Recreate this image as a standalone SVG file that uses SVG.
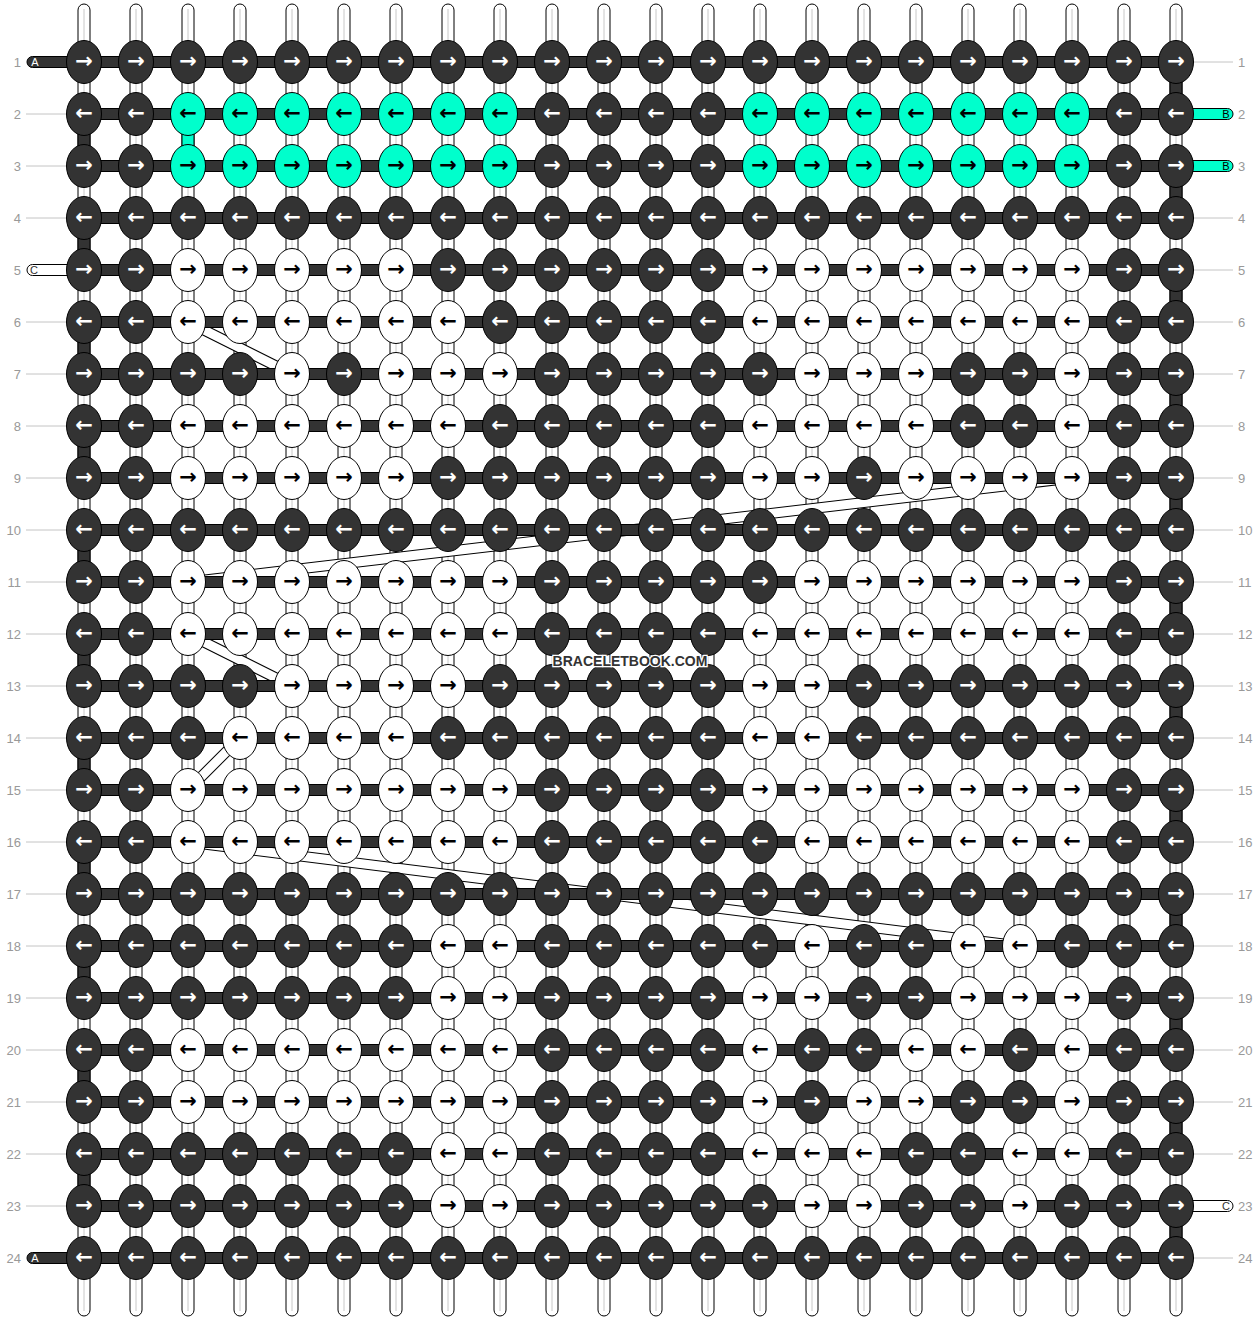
<svg xmlns="http://www.w3.org/2000/svg" width="1260" height="1320" viewBox="0 0 1260 1320">
<style>
.lbl{font-family:"Liberation Sans",Arial,sans-serif;font-size:13px;fill:#999}
.lr{text-anchor:end}
.gl{stroke:#c4c4c4;stroke-width:1}
.st rect{fill:#fff;stroke:#000;stroke-width:1}
.st line{stroke:#c8c8c8;stroke-width:1}
.bar{fill:#333;stroke:#000;stroke-width:1}
.edge{fill:#333;stroke:#000;stroke-width:1}
.bo{stroke:#000;stroke-width:11}
.bi{stroke:#fff;stroke-width:9}
.sl{font-family:"Liberation Sans",Arial,sans-serif;font-size:11px;text-anchor:middle}
#knots ellipse{stroke:#000;stroke-width:1}
.d ellipse{fill:#333}.w ellipse{fill:#fff}.c ellipse{fill:#00ffcc}
#knots text{font-family:"DejaVu Sans",sans-serif;font-size:21px;font-weight:bold;text-anchor:middle}
.d text{fill:#fff}.w text,.c text{fill:#000}
.wm{font-family:"Liberation Sans",Arial,sans-serif;font-weight:bold;font-size:14px;fill:#333;stroke:#fff;stroke-width:2.5;paint-order:stroke;text-anchor:middle}
</style>
<g id="labels">
<g class="gl">
<line x1="26" y1="114" x2="66" y2="114"/><line x1="26" y1="166" x2="66" y2="166"/><line x1="26" y1="218" x2="66" y2="218"/><line x1="26" y1="322" x2="66" y2="322"/><line x1="26" y1="374" x2="66" y2="374"/><line x1="26" y1="426" x2="66" y2="426"/><line x1="26" y1="478" x2="66" y2="478"/><line x1="26" y1="530" x2="66" y2="530"/><line x1="26" y1="582" x2="66" y2="582"/><line x1="26" y1="634" x2="66" y2="634"/><line x1="26" y1="686" x2="66" y2="686"/><line x1="26" y1="738" x2="66" y2="738"/><line x1="26" y1="790" x2="66" y2="790"/><line x1="26" y1="842" x2="66" y2="842"/><line x1="26" y1="894" x2="66" y2="894"/><line x1="26" y1="946" x2="66" y2="946"/><line x1="26" y1="998" x2="66" y2="998"/><line x1="26" y1="1050" x2="66" y2="1050"/><line x1="26" y1="1102" x2="66" y2="1102"/><line x1="26" y1="1154" x2="66" y2="1154"/><line x1="26" y1="1206" x2="66" y2="1206"/>
<line x1="1194" y1="62" x2="1233" y2="62"/><line x1="1194" y1="218" x2="1233" y2="218"/><line x1="1194" y1="270" x2="1233" y2="270"/><line x1="1194" y1="322" x2="1233" y2="322"/><line x1="1194" y1="374" x2="1233" y2="374"/><line x1="1194" y1="426" x2="1233" y2="426"/><line x1="1194" y1="478" x2="1233" y2="478"/><line x1="1194" y1="530" x2="1233" y2="530"/><line x1="1194" y1="582" x2="1233" y2="582"/><line x1="1194" y1="634" x2="1233" y2="634"/><line x1="1194" y1="686" x2="1233" y2="686"/><line x1="1194" y1="738" x2="1233" y2="738"/><line x1="1194" y1="790" x2="1233" y2="790"/><line x1="1194" y1="842" x2="1233" y2="842"/><line x1="1194" y1="894" x2="1233" y2="894"/><line x1="1194" y1="946" x2="1233" y2="946"/><line x1="1194" y1="998" x2="1233" y2="998"/><line x1="1194" y1="1050" x2="1233" y2="1050"/><line x1="1194" y1="1102" x2="1233" y2="1102"/><line x1="1194" y1="1154" x2="1233" y2="1154"/><line x1="1194" y1="1258" x2="1233" y2="1258"/>
</g>
<g class="lbl lr">
<text x="21" y="67">1</text><text x="21" y="119">2</text><text x="21" y="171">3</text><text x="21" y="223">4</text><text x="21" y="275">5</text><text x="21" y="327">6</text><text x="21" y="379">7</text><text x="21" y="431">8</text><text x="21" y="483">9</text><text x="21" y="535">10</text><text x="21" y="587">11</text><text x="21" y="639">12</text><text x="21" y="691">13</text><text x="21" y="743">14</text><text x="21" y="795">15</text><text x="21" y="847">16</text><text x="21" y="899">17</text><text x="21" y="951">18</text><text x="21" y="1003">19</text><text x="21" y="1055">20</text><text x="21" y="1107">21</text><text x="21" y="1159">22</text><text x="21" y="1211">23</text><text x="21" y="1263">24</text>
</g>
<g class="lbl">
<text x="1238" y="67">1</text><text x="1238" y="119">2</text><text x="1238" y="171">3</text><text x="1238" y="223">4</text><text x="1238" y="275">5</text><text x="1238" y="327">6</text><text x="1238" y="379">7</text><text x="1238" y="431">8</text><text x="1238" y="483">9</text><text x="1238" y="535">10</text><text x="1238" y="587">11</text><text x="1238" y="639">12</text><text x="1238" y="691">13</text><text x="1238" y="743">14</text><text x="1238" y="795">15</text><text x="1238" y="847">16</text><text x="1238" y="899">17</text><text x="1238" y="951">18</text><text x="1238" y="1003">19</text><text x="1238" y="1055">20</text><text x="1238" y="1107">21</text><text x="1238" y="1159">22</text><text x="1238" y="1211">23</text><text x="1238" y="1263">24</text>
</g>
</g>
<g id="connectors">
<g class="st">
<rect x="78" y="4" width="12" height="1312" rx="6"/><rect x="130" y="4" width="12" height="1312" rx="6"/><rect x="182" y="4" width="12" height="1312" rx="6"/><rect x="234" y="4" width="12" height="1312" rx="6"/><rect x="286" y="4" width="12" height="1312" rx="6"/><rect x="338" y="4" width="12" height="1312" rx="6"/><rect x="390" y="4" width="12" height="1312" rx="6"/><rect x="442" y="4" width="12" height="1312" rx="6"/><rect x="494" y="4" width="12" height="1312" rx="6"/><rect x="546" y="4" width="12" height="1312" rx="6"/><rect x="598" y="4" width="12" height="1312" rx="6"/><rect x="650" y="4" width="12" height="1312" rx="6"/><rect x="702" y="4" width="12" height="1312" rx="6"/><rect x="754" y="4" width="12" height="1312" rx="6"/><rect x="806" y="4" width="12" height="1312" rx="6"/><rect x="858" y="4" width="12" height="1312" rx="6"/><rect x="910" y="4" width="12" height="1312" rx="6"/><rect x="962" y="4" width="12" height="1312" rx="6"/><rect x="1014" y="4" width="12" height="1312" rx="6"/><rect x="1066" y="4" width="12" height="1312" rx="6"/><rect x="1118" y="4" width="12" height="1312" rx="6"/><rect x="1170" y="4" width="12" height="1312" rx="6"/>
<line x1="84" y1="9" x2="84" y2="1311"/><line x1="136" y1="9" x2="136" y2="1311"/><line x1="188" y1="9" x2="188" y2="1311"/><line x1="240" y1="9" x2="240" y2="1311"/><line x1="292" y1="9" x2="292" y2="1311"/><line x1="344" y1="9" x2="344" y2="1311"/><line x1="396" y1="9" x2="396" y2="1311"/><line x1="448" y1="9" x2="448" y2="1311"/><line x1="500" y1="9" x2="500" y2="1311"/><line x1="552" y1="9" x2="552" y2="1311"/><line x1="604" y1="9" x2="604" y2="1311"/><line x1="656" y1="9" x2="656" y2="1311"/><line x1="708" y1="9" x2="708" y2="1311"/><line x1="760" y1="9" x2="760" y2="1311"/><line x1="812" y1="9" x2="812" y2="1311"/><line x1="864" y1="9" x2="864" y2="1311"/><line x1="916" y1="9" x2="916" y2="1311"/><line x1="968" y1="9" x2="968" y2="1311"/><line x1="1020" y1="9" x2="1020" y2="1311"/><line x1="1072" y1="9" x2="1072" y2="1311"/><line x1="1124" y1="9" x2="1124" y2="1311"/><line x1="1176" y1="9" x2="1176" y2="1311"/>
</g>
<g class="edge">
<rect x="78" y="124" width="12" height="32"/><rect x="78" y="228" width="12" height="32"/><rect x="78" y="332" width="12" height="32"/><rect x="78" y="436" width="12" height="32"/><rect x="78" y="540" width="12" height="32"/><rect x="78" y="644" width="12" height="32"/><rect x="78" y="748" width="12" height="32"/><rect x="78" y="852" width="12" height="32"/><rect x="78" y="956" width="12" height="32"/><rect x="78" y="1060" width="12" height="32"/><rect x="78" y="1164" width="12" height="32"/>
<rect x="1170" y="72" width="12" height="32"/><rect x="1170" y="176" width="12" height="32"/><rect x="1170" y="280" width="12" height="32"/><rect x="1170" y="384" width="12" height="32"/><rect x="1170" y="488" width="12" height="32"/><rect x="1170" y="592" width="12" height="32"/><rect x="1170" y="696" width="12" height="32"/><rect x="1170" y="800" width="12" height="32"/><rect x="1170" y="904" width="12" height="32"/><rect x="1170" y="1008" width="12" height="32"/><rect x="1170" y="1112" width="12" height="32"/><rect x="1170" y="1216" width="12" height="32"/>
<rect x="182" y="124" width="12" height="32" style="fill:#00ffcc"/>
</g>
<g id="carries">
<g class="bo">
<line x1="188" y1="322" x2="292" y2="374"/><line x1="188" y1="582" x2="1072" y2="478"/><line x1="188" y1="634" x2="292" y2="686"/><line x1="240" y1="738" x2="188" y2="790"/><line x1="188" y1="842" x2="1020" y2="946"/>
</g>
<g class="bi">
<line x1="188" y1="322" x2="292" y2="374"/><line x1="188" y1="582" x2="1072" y2="478"/><line x1="188" y1="634" x2="292" y2="686"/><line x1="240" y1="738" x2="188" y2="790"/><line x1="188" y1="842" x2="1020" y2="946"/>
</g>
</g>
<g class="bar">
<rect x="84" y="56.5" width="1092" height="11"/><rect x="84" y="108.5" width="1092" height="11"/><rect x="84" y="160.5" width="1092" height="11"/><rect x="84" y="212.5" width="1092" height="11"/><rect x="84" y="264.5" width="1092" height="11"/><rect x="84" y="316.5" width="1092" height="11"/><rect x="84" y="368.5" width="1092" height="11"/><rect x="84" y="420.5" width="1092" height="11"/><rect x="84" y="472.5" width="1092" height="11"/><rect x="84" y="524.5" width="1092" height="11"/><rect x="84" y="576.5" width="1092" height="11"/><rect x="84" y="628.5" width="1092" height="11"/><rect x="84" y="680.5" width="1092" height="11"/><rect x="84" y="732.5" width="1092" height="11"/><rect x="84" y="784.5" width="1092" height="11"/><rect x="84" y="836.5" width="1092" height="11"/><rect x="84" y="888.5" width="1092" height="11"/><rect x="84" y="940.5" width="1092" height="11"/><rect x="84" y="992.5" width="1092" height="11"/><rect x="84" y="1044.5" width="1092" height="11"/><rect x="84" y="1096.5" width="1092" height="11"/><rect x="84" y="1148.5" width="1092" height="11"/><rect x="84" y="1200.5" width="1092" height="11"/><rect x="84" y="1252.5" width="1092" height="11"/>
</g>
<g id="ends">
<rect x="27" y="56.5" width="70" height="11" rx="5.5" class="bar"/><rect x="27" y="1252.5" width="70" height="11" rx="5.5" class="bar"/>
<rect x="27" y="264.5" width="70" height="11" rx="5.5" style="fill:#fff;stroke:#000"/>
<rect x="1163" y="108.5" width="70" height="11" rx="5.5" style="fill:#00ffcc;stroke:#000"/><rect x="1163" y="160.5" width="70" height="11" rx="5.5" style="fill:#00ffcc;stroke:#000"/>
<rect x="1163" y="1200.5" width="70" height="11" rx="5.5" style="fill:#fff;stroke:#000"/>
<text x="35" y="66" class="sl" style="fill:#fff">A</text><text x="35" y="1262" class="sl" style="fill:#fff">A</text>
<text x="34" y="274" class="sl" style="fill:#333">C</text>
<text x="1226" y="118" class="sl" style="fill:#000">B</text><text x="1226" y="170" class="sl" style="fill:#000">B</text>
<text x="1226" y="1210" class="sl" style="fill:#333">C</text>
</g>
</g>
<g id="knots">
<g id="n1-1" class="d" transform="translate(84,62)"><ellipse rx="17.5" ry="21.5"/><text y="6">→</text></g>
<g id="n1-2" class="d" transform="translate(136,62)"><ellipse rx="17.5" ry="21.5"/><text y="6">→</text></g>
<g id="n1-3" class="d" transform="translate(188,62)"><ellipse rx="17.5" ry="21.5"/><text y="6">→</text></g>
<g id="n1-4" class="d" transform="translate(240,62)"><ellipse rx="17.5" ry="21.5"/><text y="6">→</text></g>
<g id="n1-5" class="d" transform="translate(292,62)"><ellipse rx="17.5" ry="21.5"/><text y="6">→</text></g>
<g id="n1-6" class="d" transform="translate(344,62)"><ellipse rx="17.5" ry="21.5"/><text y="6">→</text></g>
<g id="n1-7" class="d" transform="translate(396,62)"><ellipse rx="17.5" ry="21.5"/><text y="6">→</text></g>
<g id="n1-8" class="d" transform="translate(448,62)"><ellipse rx="17.5" ry="21.5"/><text y="6">→</text></g>
<g id="n1-9" class="d" transform="translate(500,62)"><ellipse rx="17.5" ry="21.5"/><text y="6">→</text></g>
<g id="n1-10" class="d" transform="translate(552,62)"><ellipse rx="17.5" ry="21.5"/><text y="6">→</text></g>
<g id="n1-11" class="d" transform="translate(604,62)"><ellipse rx="17.5" ry="21.5"/><text y="6">→</text></g>
<g id="n1-12" class="d" transform="translate(656,62)"><ellipse rx="17.5" ry="21.5"/><text y="6">→</text></g>
<g id="n1-13" class="d" transform="translate(708,62)"><ellipse rx="17.5" ry="21.5"/><text y="6">→</text></g>
<g id="n1-14" class="d" transform="translate(760,62)"><ellipse rx="17.5" ry="21.5"/><text y="6">→</text></g>
<g id="n1-15" class="d" transform="translate(812,62)"><ellipse rx="17.5" ry="21.5"/><text y="6">→</text></g>
<g id="n1-16" class="d" transform="translate(864,62)"><ellipse rx="17.5" ry="21.5"/><text y="6">→</text></g>
<g id="n1-17" class="d" transform="translate(916,62)"><ellipse rx="17.5" ry="21.5"/><text y="6">→</text></g>
<g id="n1-18" class="d" transform="translate(968,62)"><ellipse rx="17.5" ry="21.5"/><text y="6">→</text></g>
<g id="n1-19" class="d" transform="translate(1020,62)"><ellipse rx="17.5" ry="21.5"/><text y="6">→</text></g>
<g id="n1-20" class="d" transform="translate(1072,62)"><ellipse rx="17.5" ry="21.5"/><text y="6">→</text></g>
<g id="n1-21" class="d" transform="translate(1124,62)"><ellipse rx="17.5" ry="21.5"/><text y="6">→</text></g>
<g id="n1-22" class="d" transform="translate(1176,62)"><ellipse rx="17.5" ry="21.5"/><text y="6">→</text></g>
<g id="n2-1" class="d" transform="translate(84,114)"><ellipse rx="17.5" ry="21.5"/><text y="6">←</text></g>
<g id="n2-2" class="d" transform="translate(136,114)"><ellipse rx="17.5" ry="21.5"/><text y="6">←</text></g>
<g id="n2-3" class="c" transform="translate(188,114)"><ellipse rx="17.5" ry="21.5"/><text y="6">←</text></g>
<g id="n2-4" class="c" transform="translate(240,114)"><ellipse rx="17.5" ry="21.5"/><text y="6">←</text></g>
<g id="n2-5" class="c" transform="translate(292,114)"><ellipse rx="17.5" ry="21.5"/><text y="6">←</text></g>
<g id="n2-6" class="c" transform="translate(344,114)"><ellipse rx="17.5" ry="21.5"/><text y="6">←</text></g>
<g id="n2-7" class="c" transform="translate(396,114)"><ellipse rx="17.5" ry="21.5"/><text y="6">←</text></g>
<g id="n2-8" class="c" transform="translate(448,114)"><ellipse rx="17.5" ry="21.5"/><text y="6">←</text></g>
<g id="n2-9" class="c" transform="translate(500,114)"><ellipse rx="17.5" ry="21.5"/><text y="6">←</text></g>
<g id="n2-10" class="d" transform="translate(552,114)"><ellipse rx="17.5" ry="21.5"/><text y="6">←</text></g>
<g id="n2-11" class="d" transform="translate(604,114)"><ellipse rx="17.5" ry="21.5"/><text y="6">←</text></g>
<g id="n2-12" class="d" transform="translate(656,114)"><ellipse rx="17.5" ry="21.5"/><text y="6">←</text></g>
<g id="n2-13" class="d" transform="translate(708,114)"><ellipse rx="17.5" ry="21.5"/><text y="6">←</text></g>
<g id="n2-14" class="c" transform="translate(760,114)"><ellipse rx="17.5" ry="21.5"/><text y="6">←</text></g>
<g id="n2-15" class="c" transform="translate(812,114)"><ellipse rx="17.5" ry="21.5"/><text y="6">←</text></g>
<g id="n2-16" class="c" transform="translate(864,114)"><ellipse rx="17.5" ry="21.5"/><text y="6">←</text></g>
<g id="n2-17" class="c" transform="translate(916,114)"><ellipse rx="17.5" ry="21.5"/><text y="6">←</text></g>
<g id="n2-18" class="c" transform="translate(968,114)"><ellipse rx="17.5" ry="21.5"/><text y="6">←</text></g>
<g id="n2-19" class="c" transform="translate(1020,114)"><ellipse rx="17.5" ry="21.5"/><text y="6">←</text></g>
<g id="n2-20" class="c" transform="translate(1072,114)"><ellipse rx="17.5" ry="21.5"/><text y="6">←</text></g>
<g id="n2-21" class="d" transform="translate(1124,114)"><ellipse rx="17.5" ry="21.5"/><text y="6">←</text></g>
<g id="n2-22" class="d" transform="translate(1176,114)"><ellipse rx="17.5" ry="21.5"/><text y="6">←</text></g>
<g id="n3-1" class="d" transform="translate(84,166)"><ellipse rx="17.5" ry="21.5"/><text y="6">→</text></g>
<g id="n3-2" class="d" transform="translate(136,166)"><ellipse rx="17.5" ry="21.5"/><text y="6">→</text></g>
<g id="n3-3" class="c" transform="translate(188,166)"><ellipse rx="17.5" ry="21.5"/><text y="6">→</text></g>
<g id="n3-4" class="c" transform="translate(240,166)"><ellipse rx="17.5" ry="21.5"/><text y="6">→</text></g>
<g id="n3-5" class="c" transform="translate(292,166)"><ellipse rx="17.5" ry="21.5"/><text y="6">→</text></g>
<g id="n3-6" class="c" transform="translate(344,166)"><ellipse rx="17.5" ry="21.5"/><text y="6">→</text></g>
<g id="n3-7" class="c" transform="translate(396,166)"><ellipse rx="17.5" ry="21.5"/><text y="6">→</text></g>
<g id="n3-8" class="c" transform="translate(448,166)"><ellipse rx="17.5" ry="21.5"/><text y="6">→</text></g>
<g id="n3-9" class="c" transform="translate(500,166)"><ellipse rx="17.5" ry="21.5"/><text y="6">→</text></g>
<g id="n3-10" class="d" transform="translate(552,166)"><ellipse rx="17.5" ry="21.5"/><text y="6">→</text></g>
<g id="n3-11" class="d" transform="translate(604,166)"><ellipse rx="17.5" ry="21.5"/><text y="6">→</text></g>
<g id="n3-12" class="d" transform="translate(656,166)"><ellipse rx="17.5" ry="21.5"/><text y="6">→</text></g>
<g id="n3-13" class="d" transform="translate(708,166)"><ellipse rx="17.5" ry="21.5"/><text y="6">→</text></g>
<g id="n3-14" class="c" transform="translate(760,166)"><ellipse rx="17.5" ry="21.5"/><text y="6">→</text></g>
<g id="n3-15" class="c" transform="translate(812,166)"><ellipse rx="17.5" ry="21.5"/><text y="6">→</text></g>
<g id="n3-16" class="c" transform="translate(864,166)"><ellipse rx="17.5" ry="21.5"/><text y="6">→</text></g>
<g id="n3-17" class="c" transform="translate(916,166)"><ellipse rx="17.5" ry="21.5"/><text y="6">→</text></g>
<g id="n3-18" class="c" transform="translate(968,166)"><ellipse rx="17.5" ry="21.5"/><text y="6">→</text></g>
<g id="n3-19" class="c" transform="translate(1020,166)"><ellipse rx="17.5" ry="21.5"/><text y="6">→</text></g>
<g id="n3-20" class="c" transform="translate(1072,166)"><ellipse rx="17.5" ry="21.5"/><text y="6">→</text></g>
<g id="n3-21" class="d" transform="translate(1124,166)"><ellipse rx="17.5" ry="21.5"/><text y="6">→</text></g>
<g id="n3-22" class="d" transform="translate(1176,166)"><ellipse rx="17.5" ry="21.5"/><text y="6">→</text></g>
<g id="n4-1" class="d" transform="translate(84,218)"><ellipse rx="17.5" ry="21.5"/><text y="6">←</text></g>
<g id="n4-2" class="d" transform="translate(136,218)"><ellipse rx="17.5" ry="21.5"/><text y="6">←</text></g>
<g id="n4-3" class="d" transform="translate(188,218)"><ellipse rx="17.5" ry="21.5"/><text y="6">←</text></g>
<g id="n4-4" class="d" transform="translate(240,218)"><ellipse rx="17.5" ry="21.5"/><text y="6">←</text></g>
<g id="n4-5" class="d" transform="translate(292,218)"><ellipse rx="17.5" ry="21.5"/><text y="6">←</text></g>
<g id="n4-6" class="d" transform="translate(344,218)"><ellipse rx="17.5" ry="21.5"/><text y="6">←</text></g>
<g id="n4-7" class="d" transform="translate(396,218)"><ellipse rx="17.5" ry="21.5"/><text y="6">←</text></g>
<g id="n4-8" class="d" transform="translate(448,218)"><ellipse rx="17.5" ry="21.5"/><text y="6">←</text></g>
<g id="n4-9" class="d" transform="translate(500,218)"><ellipse rx="17.5" ry="21.5"/><text y="6">←</text></g>
<g id="n4-10" class="d" transform="translate(552,218)"><ellipse rx="17.5" ry="21.5"/><text y="6">←</text></g>
<g id="n4-11" class="d" transform="translate(604,218)"><ellipse rx="17.5" ry="21.5"/><text y="6">←</text></g>
<g id="n4-12" class="d" transform="translate(656,218)"><ellipse rx="17.5" ry="21.5"/><text y="6">←</text></g>
<g id="n4-13" class="d" transform="translate(708,218)"><ellipse rx="17.5" ry="21.5"/><text y="6">←</text></g>
<g id="n4-14" class="d" transform="translate(760,218)"><ellipse rx="17.5" ry="21.5"/><text y="6">←</text></g>
<g id="n4-15" class="d" transform="translate(812,218)"><ellipse rx="17.5" ry="21.5"/><text y="6">←</text></g>
<g id="n4-16" class="d" transform="translate(864,218)"><ellipse rx="17.5" ry="21.5"/><text y="6">←</text></g>
<g id="n4-17" class="d" transform="translate(916,218)"><ellipse rx="17.5" ry="21.5"/><text y="6">←</text></g>
<g id="n4-18" class="d" transform="translate(968,218)"><ellipse rx="17.5" ry="21.5"/><text y="6">←</text></g>
<g id="n4-19" class="d" transform="translate(1020,218)"><ellipse rx="17.5" ry="21.5"/><text y="6">←</text></g>
<g id="n4-20" class="d" transform="translate(1072,218)"><ellipse rx="17.5" ry="21.5"/><text y="6">←</text></g>
<g id="n4-21" class="d" transform="translate(1124,218)"><ellipse rx="17.5" ry="21.5"/><text y="6">←</text></g>
<g id="n4-22" class="d" transform="translate(1176,218)"><ellipse rx="17.5" ry="21.5"/><text y="6">←</text></g>
<g id="n5-1" class="d" transform="translate(84,270)"><ellipse rx="17.5" ry="21.5"/><text y="6">→</text></g>
<g id="n5-2" class="d" transform="translate(136,270)"><ellipse rx="17.5" ry="21.5"/><text y="6">→</text></g>
<g id="n5-3" class="w" transform="translate(188,270)"><ellipse rx="17.5" ry="21.5"/><text y="6">→</text></g>
<g id="n5-4" class="w" transform="translate(240,270)"><ellipse rx="17.5" ry="21.5"/><text y="6">→</text></g>
<g id="n5-5" class="w" transform="translate(292,270)"><ellipse rx="17.5" ry="21.5"/><text y="6">→</text></g>
<g id="n5-6" class="w" transform="translate(344,270)"><ellipse rx="17.5" ry="21.5"/><text y="6">→</text></g>
<g id="n5-7" class="w" transform="translate(396,270)"><ellipse rx="17.5" ry="21.5"/><text y="6">→</text></g>
<g id="n5-8" class="d" transform="translate(448,270)"><ellipse rx="17.5" ry="21.5"/><text y="6">→</text></g>
<g id="n5-9" class="d" transform="translate(500,270)"><ellipse rx="17.5" ry="21.5"/><text y="6">→</text></g>
<g id="n5-10" class="d" transform="translate(552,270)"><ellipse rx="17.5" ry="21.5"/><text y="6">→</text></g>
<g id="n5-11" class="d" transform="translate(604,270)"><ellipse rx="17.5" ry="21.5"/><text y="6">→</text></g>
<g id="n5-12" class="d" transform="translate(656,270)"><ellipse rx="17.5" ry="21.5"/><text y="6">→</text></g>
<g id="n5-13" class="d" transform="translate(708,270)"><ellipse rx="17.5" ry="21.5"/><text y="6">→</text></g>
<g id="n5-14" class="w" transform="translate(760,270)"><ellipse rx="17.5" ry="21.5"/><text y="6">→</text></g>
<g id="n5-15" class="w" transform="translate(812,270)"><ellipse rx="17.5" ry="21.5"/><text y="6">→</text></g>
<g id="n5-16" class="w" transform="translate(864,270)"><ellipse rx="17.5" ry="21.5"/><text y="6">→</text></g>
<g id="n5-17" class="w" transform="translate(916,270)"><ellipse rx="17.5" ry="21.5"/><text y="6">→</text></g>
<g id="n5-18" class="w" transform="translate(968,270)"><ellipse rx="17.5" ry="21.5"/><text y="6">→</text></g>
<g id="n5-19" class="w" transform="translate(1020,270)"><ellipse rx="17.5" ry="21.5"/><text y="6">→</text></g>
<g id="n5-20" class="w" transform="translate(1072,270)"><ellipse rx="17.5" ry="21.5"/><text y="6">→</text></g>
<g id="n5-21" class="d" transform="translate(1124,270)"><ellipse rx="17.5" ry="21.5"/><text y="6">→</text></g>
<g id="n5-22" class="d" transform="translate(1176,270)"><ellipse rx="17.5" ry="21.5"/><text y="6">→</text></g>
<g id="n6-1" class="d" transform="translate(84,322)"><ellipse rx="17.5" ry="21.5"/><text y="6">←</text></g>
<g id="n6-2" class="d" transform="translate(136,322)"><ellipse rx="17.5" ry="21.5"/><text y="6">←</text></g>
<g id="n6-3" class="w" transform="translate(188,322)"><ellipse rx="17.5" ry="21.5"/><text y="6">←</text></g>
<g id="n6-4" class="w" transform="translate(240,322)"><ellipse rx="17.5" ry="21.5"/><text y="6">←</text></g>
<g id="n6-5" class="w" transform="translate(292,322)"><ellipse rx="17.5" ry="21.5"/><text y="6">←</text></g>
<g id="n6-6" class="w" transform="translate(344,322)"><ellipse rx="17.5" ry="21.5"/><text y="6">←</text></g>
<g id="n6-7" class="w" transform="translate(396,322)"><ellipse rx="17.5" ry="21.5"/><text y="6">←</text></g>
<g id="n6-8" class="w" transform="translate(448,322)"><ellipse rx="17.5" ry="21.5"/><text y="6">←</text></g>
<g id="n6-9" class="d" transform="translate(500,322)"><ellipse rx="17.5" ry="21.5"/><text y="6">←</text></g>
<g id="n6-10" class="d" transform="translate(552,322)"><ellipse rx="17.5" ry="21.5"/><text y="6">←</text></g>
<g id="n6-11" class="d" transform="translate(604,322)"><ellipse rx="17.5" ry="21.5"/><text y="6">←</text></g>
<g id="n6-12" class="d" transform="translate(656,322)"><ellipse rx="17.5" ry="21.5"/><text y="6">←</text></g>
<g id="n6-13" class="d" transform="translate(708,322)"><ellipse rx="17.5" ry="21.5"/><text y="6">←</text></g>
<g id="n6-14" class="w" transform="translate(760,322)"><ellipse rx="17.5" ry="21.5"/><text y="6">←</text></g>
<g id="n6-15" class="w" transform="translate(812,322)"><ellipse rx="17.5" ry="21.5"/><text y="6">←</text></g>
<g id="n6-16" class="w" transform="translate(864,322)"><ellipse rx="17.5" ry="21.5"/><text y="6">←</text></g>
<g id="n6-17" class="w" transform="translate(916,322)"><ellipse rx="17.5" ry="21.5"/><text y="6">←</text></g>
<g id="n6-18" class="w" transform="translate(968,322)"><ellipse rx="17.5" ry="21.5"/><text y="6">←</text></g>
<g id="n6-19" class="w" transform="translate(1020,322)"><ellipse rx="17.5" ry="21.5"/><text y="6">←</text></g>
<g id="n6-20" class="w" transform="translate(1072,322)"><ellipse rx="17.5" ry="21.5"/><text y="6">←</text></g>
<g id="n6-21" class="d" transform="translate(1124,322)"><ellipse rx="17.5" ry="21.5"/><text y="6">←</text></g>
<g id="n6-22" class="d" transform="translate(1176,322)"><ellipse rx="17.5" ry="21.5"/><text y="6">←</text></g>
<g id="n7-1" class="d" transform="translate(84,374)"><ellipse rx="17.5" ry="21.5"/><text y="6">→</text></g>
<g id="n7-2" class="d" transform="translate(136,374)"><ellipse rx="17.5" ry="21.5"/><text y="6">→</text></g>
<g id="n7-3" class="d" transform="translate(188,374)"><ellipse rx="17.5" ry="21.5"/><text y="6">→</text></g>
<g id="n7-4" class="d" transform="translate(240,374)"><ellipse rx="17.5" ry="21.5"/><text y="6">→</text></g>
<g id="n7-5" class="w" transform="translate(292,374)"><ellipse rx="17.5" ry="21.5"/><text y="6">→</text></g>
<g id="n7-6" class="d" transform="translate(344,374)"><ellipse rx="17.5" ry="21.5"/><text y="6">→</text></g>
<g id="n7-7" class="w" transform="translate(396,374)"><ellipse rx="17.5" ry="21.5"/><text y="6">→</text></g>
<g id="n7-8" class="w" transform="translate(448,374)"><ellipse rx="17.5" ry="21.5"/><text y="6">→</text></g>
<g id="n7-9" class="w" transform="translate(500,374)"><ellipse rx="17.5" ry="21.5"/><text y="6">→</text></g>
<g id="n7-10" class="d" transform="translate(552,374)"><ellipse rx="17.5" ry="21.5"/><text y="6">→</text></g>
<g id="n7-11" class="d" transform="translate(604,374)"><ellipse rx="17.5" ry="21.5"/><text y="6">→</text></g>
<g id="n7-12" class="d" transform="translate(656,374)"><ellipse rx="17.5" ry="21.5"/><text y="6">→</text></g>
<g id="n7-13" class="d" transform="translate(708,374)"><ellipse rx="17.5" ry="21.5"/><text y="6">→</text></g>
<g id="n7-14" class="d" transform="translate(760,374)"><ellipse rx="17.5" ry="21.5"/><text y="6">→</text></g>
<g id="n7-15" class="w" transform="translate(812,374)"><ellipse rx="17.5" ry="21.5"/><text y="6">→</text></g>
<g id="n7-16" class="w" transform="translate(864,374)"><ellipse rx="17.5" ry="21.5"/><text y="6">→</text></g>
<g id="n7-17" class="w" transform="translate(916,374)"><ellipse rx="17.5" ry="21.5"/><text y="6">→</text></g>
<g id="n7-18" class="d" transform="translate(968,374)"><ellipse rx="17.5" ry="21.5"/><text y="6">→</text></g>
<g id="n7-19" class="d" transform="translate(1020,374)"><ellipse rx="17.5" ry="21.5"/><text y="6">→</text></g>
<g id="n7-20" class="w" transform="translate(1072,374)"><ellipse rx="17.5" ry="21.5"/><text y="6">→</text></g>
<g id="n7-21" class="d" transform="translate(1124,374)"><ellipse rx="17.5" ry="21.5"/><text y="6">→</text></g>
<g id="n7-22" class="d" transform="translate(1176,374)"><ellipse rx="17.5" ry="21.5"/><text y="6">→</text></g>
<g id="n8-1" class="d" transform="translate(84,426)"><ellipse rx="17.5" ry="21.5"/><text y="6">←</text></g>
<g id="n8-2" class="d" transform="translate(136,426)"><ellipse rx="17.5" ry="21.5"/><text y="6">←</text></g>
<g id="n8-3" class="w" transform="translate(188,426)"><ellipse rx="17.5" ry="21.5"/><text y="6">←</text></g>
<g id="n8-4" class="w" transform="translate(240,426)"><ellipse rx="17.5" ry="21.5"/><text y="6">←</text></g>
<g id="n8-5" class="w" transform="translate(292,426)"><ellipse rx="17.5" ry="21.5"/><text y="6">←</text></g>
<g id="n8-6" class="w" transform="translate(344,426)"><ellipse rx="17.5" ry="21.5"/><text y="6">←</text></g>
<g id="n8-7" class="w" transform="translate(396,426)"><ellipse rx="17.5" ry="21.5"/><text y="6">←</text></g>
<g id="n8-8" class="w" transform="translate(448,426)"><ellipse rx="17.5" ry="21.5"/><text y="6">←</text></g>
<g id="n8-9" class="d" transform="translate(500,426)"><ellipse rx="17.5" ry="21.5"/><text y="6">←</text></g>
<g id="n8-10" class="d" transform="translate(552,426)"><ellipse rx="17.5" ry="21.5"/><text y="6">←</text></g>
<g id="n8-11" class="d" transform="translate(604,426)"><ellipse rx="17.5" ry="21.5"/><text y="6">←</text></g>
<g id="n8-12" class="d" transform="translate(656,426)"><ellipse rx="17.5" ry="21.5"/><text y="6">←</text></g>
<g id="n8-13" class="d" transform="translate(708,426)"><ellipse rx="17.5" ry="21.5"/><text y="6">←</text></g>
<g id="n8-14" class="w" transform="translate(760,426)"><ellipse rx="17.5" ry="21.5"/><text y="6">←</text></g>
<g id="n8-15" class="w" transform="translate(812,426)"><ellipse rx="17.5" ry="21.5"/><text y="6">←</text></g>
<g id="n8-16" class="w" transform="translate(864,426)"><ellipse rx="17.5" ry="21.5"/><text y="6">←</text></g>
<g id="n8-17" class="w" transform="translate(916,426)"><ellipse rx="17.5" ry="21.5"/><text y="6">←</text></g>
<g id="n8-18" class="d" transform="translate(968,426)"><ellipse rx="17.5" ry="21.5"/><text y="6">←</text></g>
<g id="n8-19" class="d" transform="translate(1020,426)"><ellipse rx="17.5" ry="21.5"/><text y="6">←</text></g>
<g id="n8-20" class="w" transform="translate(1072,426)"><ellipse rx="17.5" ry="21.5"/><text y="6">←</text></g>
<g id="n8-21" class="d" transform="translate(1124,426)"><ellipse rx="17.5" ry="21.5"/><text y="6">←</text></g>
<g id="n8-22" class="d" transform="translate(1176,426)"><ellipse rx="17.5" ry="21.5"/><text y="6">←</text></g>
<g id="n9-1" class="d" transform="translate(84,478)"><ellipse rx="17.5" ry="21.5"/><text y="6">→</text></g>
<g id="n9-2" class="d" transform="translate(136,478)"><ellipse rx="17.5" ry="21.5"/><text y="6">→</text></g>
<g id="n9-3" class="w" transform="translate(188,478)"><ellipse rx="17.5" ry="21.5"/><text y="6">→</text></g>
<g id="n9-4" class="w" transform="translate(240,478)"><ellipse rx="17.5" ry="21.5"/><text y="6">→</text></g>
<g id="n9-5" class="w" transform="translate(292,478)"><ellipse rx="17.5" ry="21.5"/><text y="6">→</text></g>
<g id="n9-6" class="w" transform="translate(344,478)"><ellipse rx="17.5" ry="21.5"/><text y="6">→</text></g>
<g id="n9-7" class="w" transform="translate(396,478)"><ellipse rx="17.5" ry="21.5"/><text y="6">→</text></g>
<g id="n9-8" class="d" transform="translate(448,478)"><ellipse rx="17.5" ry="21.5"/><text y="6">→</text></g>
<g id="n9-9" class="d" transform="translate(500,478)"><ellipse rx="17.5" ry="21.5"/><text y="6">→</text></g>
<g id="n9-10" class="d" transform="translate(552,478)"><ellipse rx="17.5" ry="21.5"/><text y="6">→</text></g>
<g id="n9-11" class="d" transform="translate(604,478)"><ellipse rx="17.5" ry="21.5"/><text y="6">→</text></g>
<g id="n9-12" class="d" transform="translate(656,478)"><ellipse rx="17.5" ry="21.5"/><text y="6">→</text></g>
<g id="n9-13" class="d" transform="translate(708,478)"><ellipse rx="17.5" ry="21.5"/><text y="6">→</text></g>
<g id="n9-14" class="w" transform="translate(760,478)"><ellipse rx="17.5" ry="21.5"/><text y="6">→</text></g>
<g id="n9-15" class="w" transform="translate(812,478)"><ellipse rx="17.5" ry="21.5"/><text y="6">→</text></g>
<g id="n9-16" class="d" transform="translate(864,478)"><ellipse rx="17.5" ry="21.5"/><text y="6">→</text></g>
<g id="n9-17" class="w" transform="translate(916,478)"><ellipse rx="17.5" ry="21.5"/><text y="6">→</text></g>
<g id="n9-18" class="w" transform="translate(968,478)"><ellipse rx="17.5" ry="21.5"/><text y="6">→</text></g>
<g id="n9-19" class="w" transform="translate(1020,478)"><ellipse rx="17.5" ry="21.5"/><text y="6">→</text></g>
<g id="n9-20" class="w" transform="translate(1072,478)"><ellipse rx="17.5" ry="21.5"/><text y="6">→</text></g>
<g id="n9-21" class="d" transform="translate(1124,478)"><ellipse rx="17.5" ry="21.5"/><text y="6">→</text></g>
<g id="n9-22" class="d" transform="translate(1176,478)"><ellipse rx="17.5" ry="21.5"/><text y="6">→</text></g>
<g id="n10-1" class="d" transform="translate(84,530)"><ellipse rx="17.5" ry="21.5"/><text y="6">←</text></g>
<g id="n10-2" class="d" transform="translate(136,530)"><ellipse rx="17.5" ry="21.5"/><text y="6">←</text></g>
<g id="n10-3" class="d" transform="translate(188,530)"><ellipse rx="17.5" ry="21.5"/><text y="6">←</text></g>
<g id="n10-4" class="d" transform="translate(240,530)"><ellipse rx="17.5" ry="21.5"/><text y="6">←</text></g>
<g id="n10-5" class="d" transform="translate(292,530)"><ellipse rx="17.5" ry="21.5"/><text y="6">←</text></g>
<g id="n10-6" class="d" transform="translate(344,530)"><ellipse rx="17.5" ry="21.5"/><text y="6">←</text></g>
<g id="n10-7" class="d" transform="translate(396,530)"><ellipse rx="17.5" ry="21.5"/><text y="6">←</text></g>
<g id="n10-8" class="d" transform="translate(448,530)"><ellipse rx="17.5" ry="21.5"/><text y="6">←</text></g>
<g id="n10-9" class="d" transform="translate(500,530)"><ellipse rx="17.5" ry="21.5"/><text y="6">←</text></g>
<g id="n10-10" class="d" transform="translate(552,530)"><ellipse rx="17.5" ry="21.5"/><text y="6">←</text></g>
<g id="n10-11" class="d" transform="translate(604,530)"><ellipse rx="17.5" ry="21.5"/><text y="6">←</text></g>
<g id="n10-12" class="d" transform="translate(656,530)"><ellipse rx="17.5" ry="21.5"/><text y="6">←</text></g>
<g id="n10-13" class="d" transform="translate(708,530)"><ellipse rx="17.5" ry="21.5"/><text y="6">←</text></g>
<g id="n10-14" class="d" transform="translate(760,530)"><ellipse rx="17.5" ry="21.5"/><text y="6">←</text></g>
<g id="n10-15" class="d" transform="translate(812,530)"><ellipse rx="17.5" ry="21.5"/><text y="6">←</text></g>
<g id="n10-16" class="d" transform="translate(864,530)"><ellipse rx="17.5" ry="21.5"/><text y="6">←</text></g>
<g id="n10-17" class="d" transform="translate(916,530)"><ellipse rx="17.5" ry="21.5"/><text y="6">←</text></g>
<g id="n10-18" class="d" transform="translate(968,530)"><ellipse rx="17.5" ry="21.5"/><text y="6">←</text></g>
<g id="n10-19" class="d" transform="translate(1020,530)"><ellipse rx="17.5" ry="21.5"/><text y="6">←</text></g>
<g id="n10-20" class="d" transform="translate(1072,530)"><ellipse rx="17.5" ry="21.5"/><text y="6">←</text></g>
<g id="n10-21" class="d" transform="translate(1124,530)"><ellipse rx="17.5" ry="21.5"/><text y="6">←</text></g>
<g id="n10-22" class="d" transform="translate(1176,530)"><ellipse rx="17.5" ry="21.5"/><text y="6">←</text></g>
<g id="n11-1" class="d" transform="translate(84,582)"><ellipse rx="17.5" ry="21.5"/><text y="6">→</text></g>
<g id="n11-2" class="d" transform="translate(136,582)"><ellipse rx="17.5" ry="21.5"/><text y="6">→</text></g>
<g id="n11-3" class="w" transform="translate(188,582)"><ellipse rx="17.5" ry="21.5"/><text y="6">→</text></g>
<g id="n11-4" class="w" transform="translate(240,582)"><ellipse rx="17.5" ry="21.5"/><text y="6">→</text></g>
<g id="n11-5" class="w" transform="translate(292,582)"><ellipse rx="17.5" ry="21.5"/><text y="6">→</text></g>
<g id="n11-6" class="w" transform="translate(344,582)"><ellipse rx="17.5" ry="21.5"/><text y="6">→</text></g>
<g id="n11-7" class="w" transform="translate(396,582)"><ellipse rx="17.5" ry="21.5"/><text y="6">→</text></g>
<g id="n11-8" class="w" transform="translate(448,582)"><ellipse rx="17.5" ry="21.5"/><text y="6">→</text></g>
<g id="n11-9" class="w" transform="translate(500,582)"><ellipse rx="17.5" ry="21.5"/><text y="6">→</text></g>
<g id="n11-10" class="d" transform="translate(552,582)"><ellipse rx="17.5" ry="21.5"/><text y="6">→</text></g>
<g id="n11-11" class="d" transform="translate(604,582)"><ellipse rx="17.5" ry="21.5"/><text y="6">→</text></g>
<g id="n11-12" class="d" transform="translate(656,582)"><ellipse rx="17.5" ry="21.5"/><text y="6">→</text></g>
<g id="n11-13" class="d" transform="translate(708,582)"><ellipse rx="17.5" ry="21.5"/><text y="6">→</text></g>
<g id="n11-14" class="d" transform="translate(760,582)"><ellipse rx="17.5" ry="21.5"/><text y="6">→</text></g>
<g id="n11-15" class="w" transform="translate(812,582)"><ellipse rx="17.5" ry="21.5"/><text y="6">→</text></g>
<g id="n11-16" class="w" transform="translate(864,582)"><ellipse rx="17.5" ry="21.5"/><text y="6">→</text></g>
<g id="n11-17" class="w" transform="translate(916,582)"><ellipse rx="17.5" ry="21.5"/><text y="6">→</text></g>
<g id="n11-18" class="w" transform="translate(968,582)"><ellipse rx="17.5" ry="21.5"/><text y="6">→</text></g>
<g id="n11-19" class="w" transform="translate(1020,582)"><ellipse rx="17.5" ry="21.5"/><text y="6">→</text></g>
<g id="n11-20" class="w" transform="translate(1072,582)"><ellipse rx="17.5" ry="21.5"/><text y="6">→</text></g>
<g id="n11-21" class="d" transform="translate(1124,582)"><ellipse rx="17.5" ry="21.5"/><text y="6">→</text></g>
<g id="n11-22" class="d" transform="translate(1176,582)"><ellipse rx="17.5" ry="21.5"/><text y="6">→</text></g>
<g id="n12-1" class="d" transform="translate(84,634)"><ellipse rx="17.5" ry="21.5"/><text y="6">←</text></g>
<g id="n12-2" class="d" transform="translate(136,634)"><ellipse rx="17.5" ry="21.5"/><text y="6">←</text></g>
<g id="n12-3" class="w" transform="translate(188,634)"><ellipse rx="17.5" ry="21.5"/><text y="6">←</text></g>
<g id="n12-4" class="w" transform="translate(240,634)"><ellipse rx="17.5" ry="21.5"/><text y="6">←</text></g>
<g id="n12-5" class="w" transform="translate(292,634)"><ellipse rx="17.5" ry="21.5"/><text y="6">←</text></g>
<g id="n12-6" class="w" transform="translate(344,634)"><ellipse rx="17.5" ry="21.5"/><text y="6">←</text></g>
<g id="n12-7" class="w" transform="translate(396,634)"><ellipse rx="17.5" ry="21.5"/><text y="6">←</text></g>
<g id="n12-8" class="w" transform="translate(448,634)"><ellipse rx="17.5" ry="21.5"/><text y="6">←</text></g>
<g id="n12-9" class="w" transform="translate(500,634)"><ellipse rx="17.5" ry="21.5"/><text y="6">←</text></g>
<g id="n12-10" class="d" transform="translate(552,634)"><ellipse rx="17.5" ry="21.5"/><text y="6">←</text></g>
<g id="n12-11" class="d" transform="translate(604,634)"><ellipse rx="17.5" ry="21.5"/><text y="6">←</text></g>
<g id="n12-12" class="d" transform="translate(656,634)"><ellipse rx="17.5" ry="21.5"/><text y="6">←</text></g>
<g id="n12-13" class="d" transform="translate(708,634)"><ellipse rx="17.5" ry="21.5"/><text y="6">←</text></g>
<g id="n12-14" class="w" transform="translate(760,634)"><ellipse rx="17.5" ry="21.5"/><text y="6">←</text></g>
<g id="n12-15" class="w" transform="translate(812,634)"><ellipse rx="17.5" ry="21.5"/><text y="6">←</text></g>
<g id="n12-16" class="w" transform="translate(864,634)"><ellipse rx="17.5" ry="21.5"/><text y="6">←</text></g>
<g id="n12-17" class="w" transform="translate(916,634)"><ellipse rx="17.5" ry="21.5"/><text y="6">←</text></g>
<g id="n12-18" class="w" transform="translate(968,634)"><ellipse rx="17.5" ry="21.5"/><text y="6">←</text></g>
<g id="n12-19" class="w" transform="translate(1020,634)"><ellipse rx="17.5" ry="21.5"/><text y="6">←</text></g>
<g id="n12-20" class="w" transform="translate(1072,634)"><ellipse rx="17.5" ry="21.5"/><text y="6">←</text></g>
<g id="n12-21" class="d" transform="translate(1124,634)"><ellipse rx="17.5" ry="21.5"/><text y="6">←</text></g>
<g id="n12-22" class="d" transform="translate(1176,634)"><ellipse rx="17.5" ry="21.5"/><text y="6">←</text></g>
<g id="n13-1" class="d" transform="translate(84,686)"><ellipse rx="17.5" ry="21.5"/><text y="6">→</text></g>
<g id="n13-2" class="d" transform="translate(136,686)"><ellipse rx="17.5" ry="21.5"/><text y="6">→</text></g>
<g id="n13-3" class="d" transform="translate(188,686)"><ellipse rx="17.5" ry="21.5"/><text y="6">→</text></g>
<g id="n13-4" class="d" transform="translate(240,686)"><ellipse rx="17.5" ry="21.5"/><text y="6">→</text></g>
<g id="n13-5" class="w" transform="translate(292,686)"><ellipse rx="17.5" ry="21.5"/><text y="6">→</text></g>
<g id="n13-6" class="w" transform="translate(344,686)"><ellipse rx="17.5" ry="21.5"/><text y="6">→</text></g>
<g id="n13-7" class="w" transform="translate(396,686)"><ellipse rx="17.5" ry="21.5"/><text y="6">→</text></g>
<g id="n13-8" class="w" transform="translate(448,686)"><ellipse rx="17.5" ry="21.5"/><text y="6">→</text></g>
<g id="n13-9" class="d" transform="translate(500,686)"><ellipse rx="17.5" ry="21.5"/><text y="6">→</text></g>
<g id="n13-10" class="d" transform="translate(552,686)"><ellipse rx="17.5" ry="21.5"/><text y="6">→</text></g>
<g id="n13-11" class="d" transform="translate(604,686)"><ellipse rx="17.5" ry="21.5"/><text y="6">→</text></g>
<g id="n13-12" class="d" transform="translate(656,686)"><ellipse rx="17.5" ry="21.5"/><text y="6">→</text></g>
<g id="n13-13" class="d" transform="translate(708,686)"><ellipse rx="17.5" ry="21.5"/><text y="6">→</text></g>
<g id="n13-14" class="w" transform="translate(760,686)"><ellipse rx="17.5" ry="21.5"/><text y="6">→</text></g>
<g id="n13-15" class="w" transform="translate(812,686)"><ellipse rx="17.5" ry="21.5"/><text y="6">→</text></g>
<g id="n13-16" class="d" transform="translate(864,686)"><ellipse rx="17.5" ry="21.5"/><text y="6">→</text></g>
<g id="n13-17" class="d" transform="translate(916,686)"><ellipse rx="17.5" ry="21.5"/><text y="6">→</text></g>
<g id="n13-18" class="d" transform="translate(968,686)"><ellipse rx="17.5" ry="21.5"/><text y="6">→</text></g>
<g id="n13-19" class="d" transform="translate(1020,686)"><ellipse rx="17.5" ry="21.5"/><text y="6">→</text></g>
<g id="n13-20" class="d" transform="translate(1072,686)"><ellipse rx="17.5" ry="21.5"/><text y="6">→</text></g>
<g id="n13-21" class="d" transform="translate(1124,686)"><ellipse rx="17.5" ry="21.5"/><text y="6">→</text></g>
<g id="n13-22" class="d" transform="translate(1176,686)"><ellipse rx="17.5" ry="21.5"/><text y="6">→</text></g>
<g id="n14-1" class="d" transform="translate(84,738)"><ellipse rx="17.5" ry="21.5"/><text y="6">←</text></g>
<g id="n14-2" class="d" transform="translate(136,738)"><ellipse rx="17.5" ry="21.5"/><text y="6">←</text></g>
<g id="n14-3" class="d" transform="translate(188,738)"><ellipse rx="17.5" ry="21.5"/><text y="6">←</text></g>
<g id="n14-4" class="w" transform="translate(240,738)"><ellipse rx="17.5" ry="21.5"/><text y="6">←</text></g>
<g id="n14-5" class="w" transform="translate(292,738)"><ellipse rx="17.5" ry="21.5"/><text y="6">←</text></g>
<g id="n14-6" class="w" transform="translate(344,738)"><ellipse rx="17.5" ry="21.5"/><text y="6">←</text></g>
<g id="n14-7" class="w" transform="translate(396,738)"><ellipse rx="17.5" ry="21.5"/><text y="6">←</text></g>
<g id="n14-8" class="d" transform="translate(448,738)"><ellipse rx="17.5" ry="21.5"/><text y="6">←</text></g>
<g id="n14-9" class="d" transform="translate(500,738)"><ellipse rx="17.5" ry="21.5"/><text y="6">←</text></g>
<g id="n14-10" class="d" transform="translate(552,738)"><ellipse rx="17.5" ry="21.5"/><text y="6">←</text></g>
<g id="n14-11" class="d" transform="translate(604,738)"><ellipse rx="17.5" ry="21.5"/><text y="6">←</text></g>
<g id="n14-12" class="d" transform="translate(656,738)"><ellipse rx="17.5" ry="21.5"/><text y="6">←</text></g>
<g id="n14-13" class="d" transform="translate(708,738)"><ellipse rx="17.5" ry="21.5"/><text y="6">←</text></g>
<g id="n14-14" class="w" transform="translate(760,738)"><ellipse rx="17.5" ry="21.5"/><text y="6">←</text></g>
<g id="n14-15" class="w" transform="translate(812,738)"><ellipse rx="17.5" ry="21.5"/><text y="6">←</text></g>
<g id="n14-16" class="d" transform="translate(864,738)"><ellipse rx="17.5" ry="21.5"/><text y="6">←</text></g>
<g id="n14-17" class="d" transform="translate(916,738)"><ellipse rx="17.5" ry="21.5"/><text y="6">←</text></g>
<g id="n14-18" class="d" transform="translate(968,738)"><ellipse rx="17.5" ry="21.5"/><text y="6">←</text></g>
<g id="n14-19" class="d" transform="translate(1020,738)"><ellipse rx="17.5" ry="21.5"/><text y="6">←</text></g>
<g id="n14-20" class="d" transform="translate(1072,738)"><ellipse rx="17.5" ry="21.5"/><text y="6">←</text></g>
<g id="n14-21" class="d" transform="translate(1124,738)"><ellipse rx="17.5" ry="21.5"/><text y="6">←</text></g>
<g id="n14-22" class="d" transform="translate(1176,738)"><ellipse rx="17.5" ry="21.5"/><text y="6">←</text></g>
<g id="n15-1" class="d" transform="translate(84,790)"><ellipse rx="17.5" ry="21.5"/><text y="6">→</text></g>
<g id="n15-2" class="d" transform="translate(136,790)"><ellipse rx="17.5" ry="21.5"/><text y="6">→</text></g>
<g id="n15-3" class="w" transform="translate(188,790)"><ellipse rx="17.5" ry="21.5"/><text y="6">→</text></g>
<g id="n15-4" class="w" transform="translate(240,790)"><ellipse rx="17.5" ry="21.5"/><text y="6">→</text></g>
<g id="n15-5" class="w" transform="translate(292,790)"><ellipse rx="17.5" ry="21.5"/><text y="6">→</text></g>
<g id="n15-6" class="w" transform="translate(344,790)"><ellipse rx="17.5" ry="21.5"/><text y="6">→</text></g>
<g id="n15-7" class="w" transform="translate(396,790)"><ellipse rx="17.5" ry="21.5"/><text y="6">→</text></g>
<g id="n15-8" class="w" transform="translate(448,790)"><ellipse rx="17.5" ry="21.5"/><text y="6">→</text></g>
<g id="n15-9" class="w" transform="translate(500,790)"><ellipse rx="17.5" ry="21.5"/><text y="6">→</text></g>
<g id="n15-10" class="d" transform="translate(552,790)"><ellipse rx="17.5" ry="21.5"/><text y="6">→</text></g>
<g id="n15-11" class="d" transform="translate(604,790)"><ellipse rx="17.5" ry="21.5"/><text y="6">→</text></g>
<g id="n15-12" class="d" transform="translate(656,790)"><ellipse rx="17.5" ry="21.5"/><text y="6">→</text></g>
<g id="n15-13" class="d" transform="translate(708,790)"><ellipse rx="17.5" ry="21.5"/><text y="6">→</text></g>
<g id="n15-14" class="w" transform="translate(760,790)"><ellipse rx="17.5" ry="21.5"/><text y="6">→</text></g>
<g id="n15-15" class="w" transform="translate(812,790)"><ellipse rx="17.5" ry="21.5"/><text y="6">→</text></g>
<g id="n15-16" class="w" transform="translate(864,790)"><ellipse rx="17.5" ry="21.5"/><text y="6">→</text></g>
<g id="n15-17" class="w" transform="translate(916,790)"><ellipse rx="17.5" ry="21.5"/><text y="6">→</text></g>
<g id="n15-18" class="w" transform="translate(968,790)"><ellipse rx="17.5" ry="21.5"/><text y="6">→</text></g>
<g id="n15-19" class="w" transform="translate(1020,790)"><ellipse rx="17.5" ry="21.5"/><text y="6">→</text></g>
<g id="n15-20" class="w" transform="translate(1072,790)"><ellipse rx="17.5" ry="21.5"/><text y="6">→</text></g>
<g id="n15-21" class="d" transform="translate(1124,790)"><ellipse rx="17.5" ry="21.5"/><text y="6">→</text></g>
<g id="n15-22" class="d" transform="translate(1176,790)"><ellipse rx="17.5" ry="21.5"/><text y="6">→</text></g>
<g id="n16-1" class="d" transform="translate(84,842)"><ellipse rx="17.5" ry="21.5"/><text y="6">←</text></g>
<g id="n16-2" class="d" transform="translate(136,842)"><ellipse rx="17.5" ry="21.5"/><text y="6">←</text></g>
<g id="n16-3" class="w" transform="translate(188,842)"><ellipse rx="17.5" ry="21.5"/><text y="6">←</text></g>
<g id="n16-4" class="w" transform="translate(240,842)"><ellipse rx="17.5" ry="21.5"/><text y="6">←</text></g>
<g id="n16-5" class="w" transform="translate(292,842)"><ellipse rx="17.5" ry="21.5"/><text y="6">←</text></g>
<g id="n16-6" class="w" transform="translate(344,842)"><ellipse rx="17.5" ry="21.5"/><text y="6">←</text></g>
<g id="n16-7" class="w" transform="translate(396,842)"><ellipse rx="17.5" ry="21.5"/><text y="6">←</text></g>
<g id="n16-8" class="w" transform="translate(448,842)"><ellipse rx="17.5" ry="21.5"/><text y="6">←</text></g>
<g id="n16-9" class="w" transform="translate(500,842)"><ellipse rx="17.5" ry="21.5"/><text y="6">←</text></g>
<g id="n16-10" class="d" transform="translate(552,842)"><ellipse rx="17.5" ry="21.5"/><text y="6">←</text></g>
<g id="n16-11" class="d" transform="translate(604,842)"><ellipse rx="17.5" ry="21.5"/><text y="6">←</text></g>
<g id="n16-12" class="d" transform="translate(656,842)"><ellipse rx="17.5" ry="21.5"/><text y="6">←</text></g>
<g id="n16-13" class="d" transform="translate(708,842)"><ellipse rx="17.5" ry="21.5"/><text y="6">←</text></g>
<g id="n16-14" class="d" transform="translate(760,842)"><ellipse rx="17.5" ry="21.5"/><text y="6">←</text></g>
<g id="n16-15" class="w" transform="translate(812,842)"><ellipse rx="17.5" ry="21.5"/><text y="6">←</text></g>
<g id="n16-16" class="w" transform="translate(864,842)"><ellipse rx="17.5" ry="21.5"/><text y="6">←</text></g>
<g id="n16-17" class="w" transform="translate(916,842)"><ellipse rx="17.5" ry="21.5"/><text y="6">←</text></g>
<g id="n16-18" class="w" transform="translate(968,842)"><ellipse rx="17.5" ry="21.5"/><text y="6">←</text></g>
<g id="n16-19" class="w" transform="translate(1020,842)"><ellipse rx="17.5" ry="21.5"/><text y="6">←</text></g>
<g id="n16-20" class="w" transform="translate(1072,842)"><ellipse rx="17.5" ry="21.5"/><text y="6">←</text></g>
<g id="n16-21" class="d" transform="translate(1124,842)"><ellipse rx="17.5" ry="21.5"/><text y="6">←</text></g>
<g id="n16-22" class="d" transform="translate(1176,842)"><ellipse rx="17.5" ry="21.5"/><text y="6">←</text></g>
<g id="n17-1" class="d" transform="translate(84,894)"><ellipse rx="17.5" ry="21.5"/><text y="6">→</text></g>
<g id="n17-2" class="d" transform="translate(136,894)"><ellipse rx="17.5" ry="21.5"/><text y="6">→</text></g>
<g id="n17-3" class="d" transform="translate(188,894)"><ellipse rx="17.5" ry="21.5"/><text y="6">→</text></g>
<g id="n17-4" class="d" transform="translate(240,894)"><ellipse rx="17.5" ry="21.5"/><text y="6">→</text></g>
<g id="n17-5" class="d" transform="translate(292,894)"><ellipse rx="17.5" ry="21.5"/><text y="6">→</text></g>
<g id="n17-6" class="d" transform="translate(344,894)"><ellipse rx="17.5" ry="21.5"/><text y="6">→</text></g>
<g id="n17-7" class="d" transform="translate(396,894)"><ellipse rx="17.5" ry="21.5"/><text y="6">→</text></g>
<g id="n17-8" class="d" transform="translate(448,894)"><ellipse rx="17.5" ry="21.5"/><text y="6">→</text></g>
<g id="n17-9" class="d" transform="translate(500,894)"><ellipse rx="17.5" ry="21.5"/><text y="6">→</text></g>
<g id="n17-10" class="d" transform="translate(552,894)"><ellipse rx="17.5" ry="21.5"/><text y="6">→</text></g>
<g id="n17-11" class="d" transform="translate(604,894)"><ellipse rx="17.5" ry="21.5"/><text y="6">→</text></g>
<g id="n17-12" class="d" transform="translate(656,894)"><ellipse rx="17.5" ry="21.5"/><text y="6">→</text></g>
<g id="n17-13" class="d" transform="translate(708,894)"><ellipse rx="17.5" ry="21.5"/><text y="6">→</text></g>
<g id="n17-14" class="d" transform="translate(760,894)"><ellipse rx="17.5" ry="21.5"/><text y="6">→</text></g>
<g id="n17-15" class="d" transform="translate(812,894)"><ellipse rx="17.5" ry="21.5"/><text y="6">→</text></g>
<g id="n17-16" class="d" transform="translate(864,894)"><ellipse rx="17.5" ry="21.5"/><text y="6">→</text></g>
<g id="n17-17" class="d" transform="translate(916,894)"><ellipse rx="17.5" ry="21.5"/><text y="6">→</text></g>
<g id="n17-18" class="d" transform="translate(968,894)"><ellipse rx="17.5" ry="21.5"/><text y="6">→</text></g>
<g id="n17-19" class="d" transform="translate(1020,894)"><ellipse rx="17.5" ry="21.5"/><text y="6">→</text></g>
<g id="n17-20" class="d" transform="translate(1072,894)"><ellipse rx="17.5" ry="21.5"/><text y="6">→</text></g>
<g id="n17-21" class="d" transform="translate(1124,894)"><ellipse rx="17.5" ry="21.5"/><text y="6">→</text></g>
<g id="n17-22" class="d" transform="translate(1176,894)"><ellipse rx="17.5" ry="21.5"/><text y="6">→</text></g>
<g id="n18-1" class="d" transform="translate(84,946)"><ellipse rx="17.5" ry="21.5"/><text y="6">←</text></g>
<g id="n18-2" class="d" transform="translate(136,946)"><ellipse rx="17.5" ry="21.5"/><text y="6">←</text></g>
<g id="n18-3" class="d" transform="translate(188,946)"><ellipse rx="17.5" ry="21.5"/><text y="6">←</text></g>
<g id="n18-4" class="d" transform="translate(240,946)"><ellipse rx="17.5" ry="21.5"/><text y="6">←</text></g>
<g id="n18-5" class="d" transform="translate(292,946)"><ellipse rx="17.5" ry="21.5"/><text y="6">←</text></g>
<g id="n18-6" class="d" transform="translate(344,946)"><ellipse rx="17.5" ry="21.5"/><text y="6">←</text></g>
<g id="n18-7" class="d" transform="translate(396,946)"><ellipse rx="17.5" ry="21.5"/><text y="6">←</text></g>
<g id="n18-8" class="w" transform="translate(448,946)"><ellipse rx="17.5" ry="21.5"/><text y="6">←</text></g>
<g id="n18-9" class="w" transform="translate(500,946)"><ellipse rx="17.5" ry="21.5"/><text y="6">←</text></g>
<g id="n18-10" class="d" transform="translate(552,946)"><ellipse rx="17.5" ry="21.5"/><text y="6">←</text></g>
<g id="n18-11" class="d" transform="translate(604,946)"><ellipse rx="17.5" ry="21.5"/><text y="6">←</text></g>
<g id="n18-12" class="d" transform="translate(656,946)"><ellipse rx="17.5" ry="21.5"/><text y="6">←</text></g>
<g id="n18-13" class="d" transform="translate(708,946)"><ellipse rx="17.5" ry="21.5"/><text y="6">←</text></g>
<g id="n18-14" class="d" transform="translate(760,946)"><ellipse rx="17.5" ry="21.5"/><text y="6">←</text></g>
<g id="n18-15" class="w" transform="translate(812,946)"><ellipse rx="17.5" ry="21.5"/><text y="6">←</text></g>
<g id="n18-16" class="d" transform="translate(864,946)"><ellipse rx="17.5" ry="21.5"/><text y="6">←</text></g>
<g id="n18-17" class="d" transform="translate(916,946)"><ellipse rx="17.5" ry="21.5"/><text y="6">←</text></g>
<g id="n18-18" class="w" transform="translate(968,946)"><ellipse rx="17.5" ry="21.5"/><text y="6">←</text></g>
<g id="n18-19" class="w" transform="translate(1020,946)"><ellipse rx="17.5" ry="21.5"/><text y="6">←</text></g>
<g id="n18-20" class="d" transform="translate(1072,946)"><ellipse rx="17.5" ry="21.5"/><text y="6">←</text></g>
<g id="n18-21" class="d" transform="translate(1124,946)"><ellipse rx="17.5" ry="21.5"/><text y="6">←</text></g>
<g id="n18-22" class="d" transform="translate(1176,946)"><ellipse rx="17.5" ry="21.5"/><text y="6">←</text></g>
<g id="n19-1" class="d" transform="translate(84,998)"><ellipse rx="17.5" ry="21.5"/><text y="6">→</text></g>
<g id="n19-2" class="d" transform="translate(136,998)"><ellipse rx="17.5" ry="21.5"/><text y="6">→</text></g>
<g id="n19-3" class="d" transform="translate(188,998)"><ellipse rx="17.5" ry="21.5"/><text y="6">→</text></g>
<g id="n19-4" class="d" transform="translate(240,998)"><ellipse rx="17.5" ry="21.5"/><text y="6">→</text></g>
<g id="n19-5" class="d" transform="translate(292,998)"><ellipse rx="17.5" ry="21.5"/><text y="6">→</text></g>
<g id="n19-6" class="d" transform="translate(344,998)"><ellipse rx="17.5" ry="21.5"/><text y="6">→</text></g>
<g id="n19-7" class="d" transform="translate(396,998)"><ellipse rx="17.5" ry="21.5"/><text y="6">→</text></g>
<g id="n19-8" class="w" transform="translate(448,998)"><ellipse rx="17.5" ry="21.5"/><text y="6">→</text></g>
<g id="n19-9" class="w" transform="translate(500,998)"><ellipse rx="17.5" ry="21.5"/><text y="6">→</text></g>
<g id="n19-10" class="d" transform="translate(552,998)"><ellipse rx="17.5" ry="21.5"/><text y="6">→</text></g>
<g id="n19-11" class="d" transform="translate(604,998)"><ellipse rx="17.5" ry="21.5"/><text y="6">→</text></g>
<g id="n19-12" class="d" transform="translate(656,998)"><ellipse rx="17.5" ry="21.5"/><text y="6">→</text></g>
<g id="n19-13" class="d" transform="translate(708,998)"><ellipse rx="17.5" ry="21.5"/><text y="6">→</text></g>
<g id="n19-14" class="w" transform="translate(760,998)"><ellipse rx="17.5" ry="21.5"/><text y="6">→</text></g>
<g id="n19-15" class="w" transform="translate(812,998)"><ellipse rx="17.5" ry="21.5"/><text y="6">→</text></g>
<g id="n19-16" class="d" transform="translate(864,998)"><ellipse rx="17.5" ry="21.5"/><text y="6">→</text></g>
<g id="n19-17" class="d" transform="translate(916,998)"><ellipse rx="17.5" ry="21.5"/><text y="6">→</text></g>
<g id="n19-18" class="w" transform="translate(968,998)"><ellipse rx="17.5" ry="21.5"/><text y="6">→</text></g>
<g id="n19-19" class="w" transform="translate(1020,998)"><ellipse rx="17.5" ry="21.5"/><text y="6">→</text></g>
<g id="n19-20" class="w" transform="translate(1072,998)"><ellipse rx="17.5" ry="21.5"/><text y="6">→</text></g>
<g id="n19-21" class="d" transform="translate(1124,998)"><ellipse rx="17.5" ry="21.5"/><text y="6">→</text></g>
<g id="n19-22" class="d" transform="translate(1176,998)"><ellipse rx="17.5" ry="21.5"/><text y="6">→</text></g>
<g id="n20-1" class="d" transform="translate(84,1050)"><ellipse rx="17.5" ry="21.5"/><text y="6">←</text></g>
<g id="n20-2" class="d" transform="translate(136,1050)"><ellipse rx="17.5" ry="21.5"/><text y="6">←</text></g>
<g id="n20-3" class="w" transform="translate(188,1050)"><ellipse rx="17.5" ry="21.5"/><text y="6">←</text></g>
<g id="n20-4" class="w" transform="translate(240,1050)"><ellipse rx="17.5" ry="21.5"/><text y="6">←</text></g>
<g id="n20-5" class="w" transform="translate(292,1050)"><ellipse rx="17.5" ry="21.5"/><text y="6">←</text></g>
<g id="n20-6" class="w" transform="translate(344,1050)"><ellipse rx="17.5" ry="21.5"/><text y="6">←</text></g>
<g id="n20-7" class="w" transform="translate(396,1050)"><ellipse rx="17.5" ry="21.5"/><text y="6">←</text></g>
<g id="n20-8" class="w" transform="translate(448,1050)"><ellipse rx="17.5" ry="21.5"/><text y="6">←</text></g>
<g id="n20-9" class="w" transform="translate(500,1050)"><ellipse rx="17.5" ry="21.5"/><text y="6">←</text></g>
<g id="n20-10" class="d" transform="translate(552,1050)"><ellipse rx="17.5" ry="21.5"/><text y="6">←</text></g>
<g id="n20-11" class="d" transform="translate(604,1050)"><ellipse rx="17.5" ry="21.5"/><text y="6">←</text></g>
<g id="n20-12" class="d" transform="translate(656,1050)"><ellipse rx="17.5" ry="21.5"/><text y="6">←</text></g>
<g id="n20-13" class="d" transform="translate(708,1050)"><ellipse rx="17.5" ry="21.5"/><text y="6">←</text></g>
<g id="n20-14" class="w" transform="translate(760,1050)"><ellipse rx="17.5" ry="21.5"/><text y="6">←</text></g>
<g id="n20-15" class="d" transform="translate(812,1050)"><ellipse rx="17.5" ry="21.5"/><text y="6">←</text></g>
<g id="n20-16" class="d" transform="translate(864,1050)"><ellipse rx="17.5" ry="21.5"/><text y="6">←</text></g>
<g id="n20-17" class="w" transform="translate(916,1050)"><ellipse rx="17.5" ry="21.5"/><text y="6">←</text></g>
<g id="n20-18" class="w" transform="translate(968,1050)"><ellipse rx="17.5" ry="21.5"/><text y="6">←</text></g>
<g id="n20-19" class="d" transform="translate(1020,1050)"><ellipse rx="17.5" ry="21.5"/><text y="6">←</text></g>
<g id="n20-20" class="w" transform="translate(1072,1050)"><ellipse rx="17.5" ry="21.5"/><text y="6">←</text></g>
<g id="n20-21" class="d" transform="translate(1124,1050)"><ellipse rx="17.5" ry="21.5"/><text y="6">←</text></g>
<g id="n20-22" class="d" transform="translate(1176,1050)"><ellipse rx="17.5" ry="21.5"/><text y="6">←</text></g>
<g id="n21-1" class="d" transform="translate(84,1102)"><ellipse rx="17.5" ry="21.5"/><text y="6">→</text></g>
<g id="n21-2" class="d" transform="translate(136,1102)"><ellipse rx="17.5" ry="21.5"/><text y="6">→</text></g>
<g id="n21-3" class="w" transform="translate(188,1102)"><ellipse rx="17.5" ry="21.5"/><text y="6">→</text></g>
<g id="n21-4" class="w" transform="translate(240,1102)"><ellipse rx="17.5" ry="21.5"/><text y="6">→</text></g>
<g id="n21-5" class="w" transform="translate(292,1102)"><ellipse rx="17.5" ry="21.5"/><text y="6">→</text></g>
<g id="n21-6" class="w" transform="translate(344,1102)"><ellipse rx="17.5" ry="21.5"/><text y="6">→</text></g>
<g id="n21-7" class="w" transform="translate(396,1102)"><ellipse rx="17.5" ry="21.5"/><text y="6">→</text></g>
<g id="n21-8" class="w" transform="translate(448,1102)"><ellipse rx="17.5" ry="21.5"/><text y="6">→</text></g>
<g id="n21-9" class="w" transform="translate(500,1102)"><ellipse rx="17.5" ry="21.5"/><text y="6">→</text></g>
<g id="n21-10" class="d" transform="translate(552,1102)"><ellipse rx="17.5" ry="21.5"/><text y="6">→</text></g>
<g id="n21-11" class="d" transform="translate(604,1102)"><ellipse rx="17.5" ry="21.5"/><text y="6">→</text></g>
<g id="n21-12" class="d" transform="translate(656,1102)"><ellipse rx="17.5" ry="21.5"/><text y="6">→</text></g>
<g id="n21-13" class="d" transform="translate(708,1102)"><ellipse rx="17.5" ry="21.5"/><text y="6">→</text></g>
<g id="n21-14" class="w" transform="translate(760,1102)"><ellipse rx="17.5" ry="21.5"/><text y="6">→</text></g>
<g id="n21-15" class="d" transform="translate(812,1102)"><ellipse rx="17.5" ry="21.5"/><text y="6">→</text></g>
<g id="n21-16" class="w" transform="translate(864,1102)"><ellipse rx="17.5" ry="21.5"/><text y="6">→</text></g>
<g id="n21-17" class="w" transform="translate(916,1102)"><ellipse rx="17.5" ry="21.5"/><text y="6">→</text></g>
<g id="n21-18" class="d" transform="translate(968,1102)"><ellipse rx="17.5" ry="21.5"/><text y="6">→</text></g>
<g id="n21-19" class="d" transform="translate(1020,1102)"><ellipse rx="17.5" ry="21.5"/><text y="6">→</text></g>
<g id="n21-20" class="w" transform="translate(1072,1102)"><ellipse rx="17.5" ry="21.5"/><text y="6">→</text></g>
<g id="n21-21" class="d" transform="translate(1124,1102)"><ellipse rx="17.5" ry="21.5"/><text y="6">→</text></g>
<g id="n21-22" class="d" transform="translate(1176,1102)"><ellipse rx="17.5" ry="21.5"/><text y="6">→</text></g>
<g id="n22-1" class="d" transform="translate(84,1154)"><ellipse rx="17.5" ry="21.5"/><text y="6">←</text></g>
<g id="n22-2" class="d" transform="translate(136,1154)"><ellipse rx="17.5" ry="21.5"/><text y="6">←</text></g>
<g id="n22-3" class="d" transform="translate(188,1154)"><ellipse rx="17.5" ry="21.5"/><text y="6">←</text></g>
<g id="n22-4" class="d" transform="translate(240,1154)"><ellipse rx="17.5" ry="21.5"/><text y="6">←</text></g>
<g id="n22-5" class="d" transform="translate(292,1154)"><ellipse rx="17.5" ry="21.5"/><text y="6">←</text></g>
<g id="n22-6" class="d" transform="translate(344,1154)"><ellipse rx="17.5" ry="21.5"/><text y="6">←</text></g>
<g id="n22-7" class="d" transform="translate(396,1154)"><ellipse rx="17.5" ry="21.5"/><text y="6">←</text></g>
<g id="n22-8" class="w" transform="translate(448,1154)"><ellipse rx="17.5" ry="21.5"/><text y="6">←</text></g>
<g id="n22-9" class="w" transform="translate(500,1154)"><ellipse rx="17.5" ry="21.5"/><text y="6">←</text></g>
<g id="n22-10" class="d" transform="translate(552,1154)"><ellipse rx="17.5" ry="21.5"/><text y="6">←</text></g>
<g id="n22-11" class="d" transform="translate(604,1154)"><ellipse rx="17.5" ry="21.5"/><text y="6">←</text></g>
<g id="n22-12" class="d" transform="translate(656,1154)"><ellipse rx="17.5" ry="21.5"/><text y="6">←</text></g>
<g id="n22-13" class="d" transform="translate(708,1154)"><ellipse rx="17.5" ry="21.5"/><text y="6">←</text></g>
<g id="n22-14" class="w" transform="translate(760,1154)"><ellipse rx="17.5" ry="21.5"/><text y="6">←</text></g>
<g id="n22-15" class="w" transform="translate(812,1154)"><ellipse rx="17.5" ry="21.5"/><text y="6">←</text></g>
<g id="n22-16" class="w" transform="translate(864,1154)"><ellipse rx="17.5" ry="21.5"/><text y="6">←</text></g>
<g id="n22-17" class="d" transform="translate(916,1154)"><ellipse rx="17.5" ry="21.5"/><text y="6">←</text></g>
<g id="n22-18" class="d" transform="translate(968,1154)"><ellipse rx="17.5" ry="21.5"/><text y="6">←</text></g>
<g id="n22-19" class="w" transform="translate(1020,1154)"><ellipse rx="17.5" ry="21.5"/><text y="6">←</text></g>
<g id="n22-20" class="w" transform="translate(1072,1154)"><ellipse rx="17.5" ry="21.5"/><text y="6">←</text></g>
<g id="n22-21" class="d" transform="translate(1124,1154)"><ellipse rx="17.5" ry="21.5"/><text y="6">←</text></g>
<g id="n22-22" class="d" transform="translate(1176,1154)"><ellipse rx="17.5" ry="21.5"/><text y="6">←</text></g>
<g id="n23-1" class="d" transform="translate(84,1206)"><ellipse rx="17.5" ry="21.5"/><text y="6">→</text></g>
<g id="n23-2" class="d" transform="translate(136,1206)"><ellipse rx="17.5" ry="21.5"/><text y="6">→</text></g>
<g id="n23-3" class="d" transform="translate(188,1206)"><ellipse rx="17.5" ry="21.5"/><text y="6">→</text></g>
<g id="n23-4" class="d" transform="translate(240,1206)"><ellipse rx="17.5" ry="21.5"/><text y="6">→</text></g>
<g id="n23-5" class="d" transform="translate(292,1206)"><ellipse rx="17.5" ry="21.5"/><text y="6">→</text></g>
<g id="n23-6" class="d" transform="translate(344,1206)"><ellipse rx="17.5" ry="21.5"/><text y="6">→</text></g>
<g id="n23-7" class="d" transform="translate(396,1206)"><ellipse rx="17.5" ry="21.5"/><text y="6">→</text></g>
<g id="n23-8" class="w" transform="translate(448,1206)"><ellipse rx="17.5" ry="21.5"/><text y="6">→</text></g>
<g id="n23-9" class="w" transform="translate(500,1206)"><ellipse rx="17.5" ry="21.5"/><text y="6">→</text></g>
<g id="n23-10" class="d" transform="translate(552,1206)"><ellipse rx="17.5" ry="21.5"/><text y="6">→</text></g>
<g id="n23-11" class="d" transform="translate(604,1206)"><ellipse rx="17.5" ry="21.5"/><text y="6">→</text></g>
<g id="n23-12" class="d" transform="translate(656,1206)"><ellipse rx="17.5" ry="21.5"/><text y="6">→</text></g>
<g id="n23-13" class="d" transform="translate(708,1206)"><ellipse rx="17.5" ry="21.5"/><text y="6">→</text></g>
<g id="n23-14" class="d" transform="translate(760,1206)"><ellipse rx="17.5" ry="21.5"/><text y="6">→</text></g>
<g id="n23-15" class="w" transform="translate(812,1206)"><ellipse rx="17.5" ry="21.5"/><text y="6">→</text></g>
<g id="n23-16" class="w" transform="translate(864,1206)"><ellipse rx="17.5" ry="21.5"/><text y="6">→</text></g>
<g id="n23-17" class="d" transform="translate(916,1206)"><ellipse rx="17.5" ry="21.5"/><text y="6">→</text></g>
<g id="n23-18" class="d" transform="translate(968,1206)"><ellipse rx="17.5" ry="21.5"/><text y="6">→</text></g>
<g id="n23-19" class="w" transform="translate(1020,1206)"><ellipse rx="17.5" ry="21.5"/><text y="6">→</text></g>
<g id="n23-20" class="d" transform="translate(1072,1206)"><ellipse rx="17.5" ry="21.5"/><text y="6">→</text></g>
<g id="n23-21" class="d" transform="translate(1124,1206)"><ellipse rx="17.5" ry="21.5"/><text y="6">→</text></g>
<g id="n23-22" class="d" transform="translate(1176,1206)"><ellipse rx="17.5" ry="21.5"/><text y="6">→</text></g>
<g id="n24-1" class="d" transform="translate(84,1258)"><ellipse rx="17.5" ry="21.5"/><text y="6">←</text></g>
<g id="n24-2" class="d" transform="translate(136,1258)"><ellipse rx="17.5" ry="21.5"/><text y="6">←</text></g>
<g id="n24-3" class="d" transform="translate(188,1258)"><ellipse rx="17.5" ry="21.5"/><text y="6">←</text></g>
<g id="n24-4" class="d" transform="translate(240,1258)"><ellipse rx="17.5" ry="21.5"/><text y="6">←</text></g>
<g id="n24-5" class="d" transform="translate(292,1258)"><ellipse rx="17.5" ry="21.5"/><text y="6">←</text></g>
<g id="n24-6" class="d" transform="translate(344,1258)"><ellipse rx="17.5" ry="21.5"/><text y="6">←</text></g>
<g id="n24-7" class="d" transform="translate(396,1258)"><ellipse rx="17.5" ry="21.5"/><text y="6">←</text></g>
<g id="n24-8" class="d" transform="translate(448,1258)"><ellipse rx="17.5" ry="21.5"/><text y="6">←</text></g>
<g id="n24-9" class="d" transform="translate(500,1258)"><ellipse rx="17.5" ry="21.5"/><text y="6">←</text></g>
<g id="n24-10" class="d" transform="translate(552,1258)"><ellipse rx="17.5" ry="21.5"/><text y="6">←</text></g>
<g id="n24-11" class="d" transform="translate(604,1258)"><ellipse rx="17.5" ry="21.5"/><text y="6">←</text></g>
<g id="n24-12" class="d" transform="translate(656,1258)"><ellipse rx="17.5" ry="21.5"/><text y="6">←</text></g>
<g id="n24-13" class="d" transform="translate(708,1258)"><ellipse rx="17.5" ry="21.5"/><text y="6">←</text></g>
<g id="n24-14" class="d" transform="translate(760,1258)"><ellipse rx="17.5" ry="21.5"/><text y="6">←</text></g>
<g id="n24-15" class="d" transform="translate(812,1258)"><ellipse rx="17.5" ry="21.5"/><text y="6">←</text></g>
<g id="n24-16" class="d" transform="translate(864,1258)"><ellipse rx="17.5" ry="21.5"/><text y="6">←</text></g>
<g id="n24-17" class="d" transform="translate(916,1258)"><ellipse rx="17.5" ry="21.5"/><text y="6">←</text></g>
<g id="n24-18" class="d" transform="translate(968,1258)"><ellipse rx="17.5" ry="21.5"/><text y="6">←</text></g>
<g id="n24-19" class="d" transform="translate(1020,1258)"><ellipse rx="17.5" ry="21.5"/><text y="6">←</text></g>
<g id="n24-20" class="d" transform="translate(1072,1258)"><ellipse rx="17.5" ry="21.5"/><text y="6">←</text></g>
<g id="n24-21" class="d" transform="translate(1124,1258)"><ellipse rx="17.5" ry="21.5"/><text y="6">←</text></g>
<g id="n24-22" class="d" transform="translate(1176,1258)"><ellipse rx="17.5" ry="21.5"/><text y="6">←</text></g>
</g>
<text x="630" y="666" class="wm">BRACELETBOOK.COM</text>
</svg>
